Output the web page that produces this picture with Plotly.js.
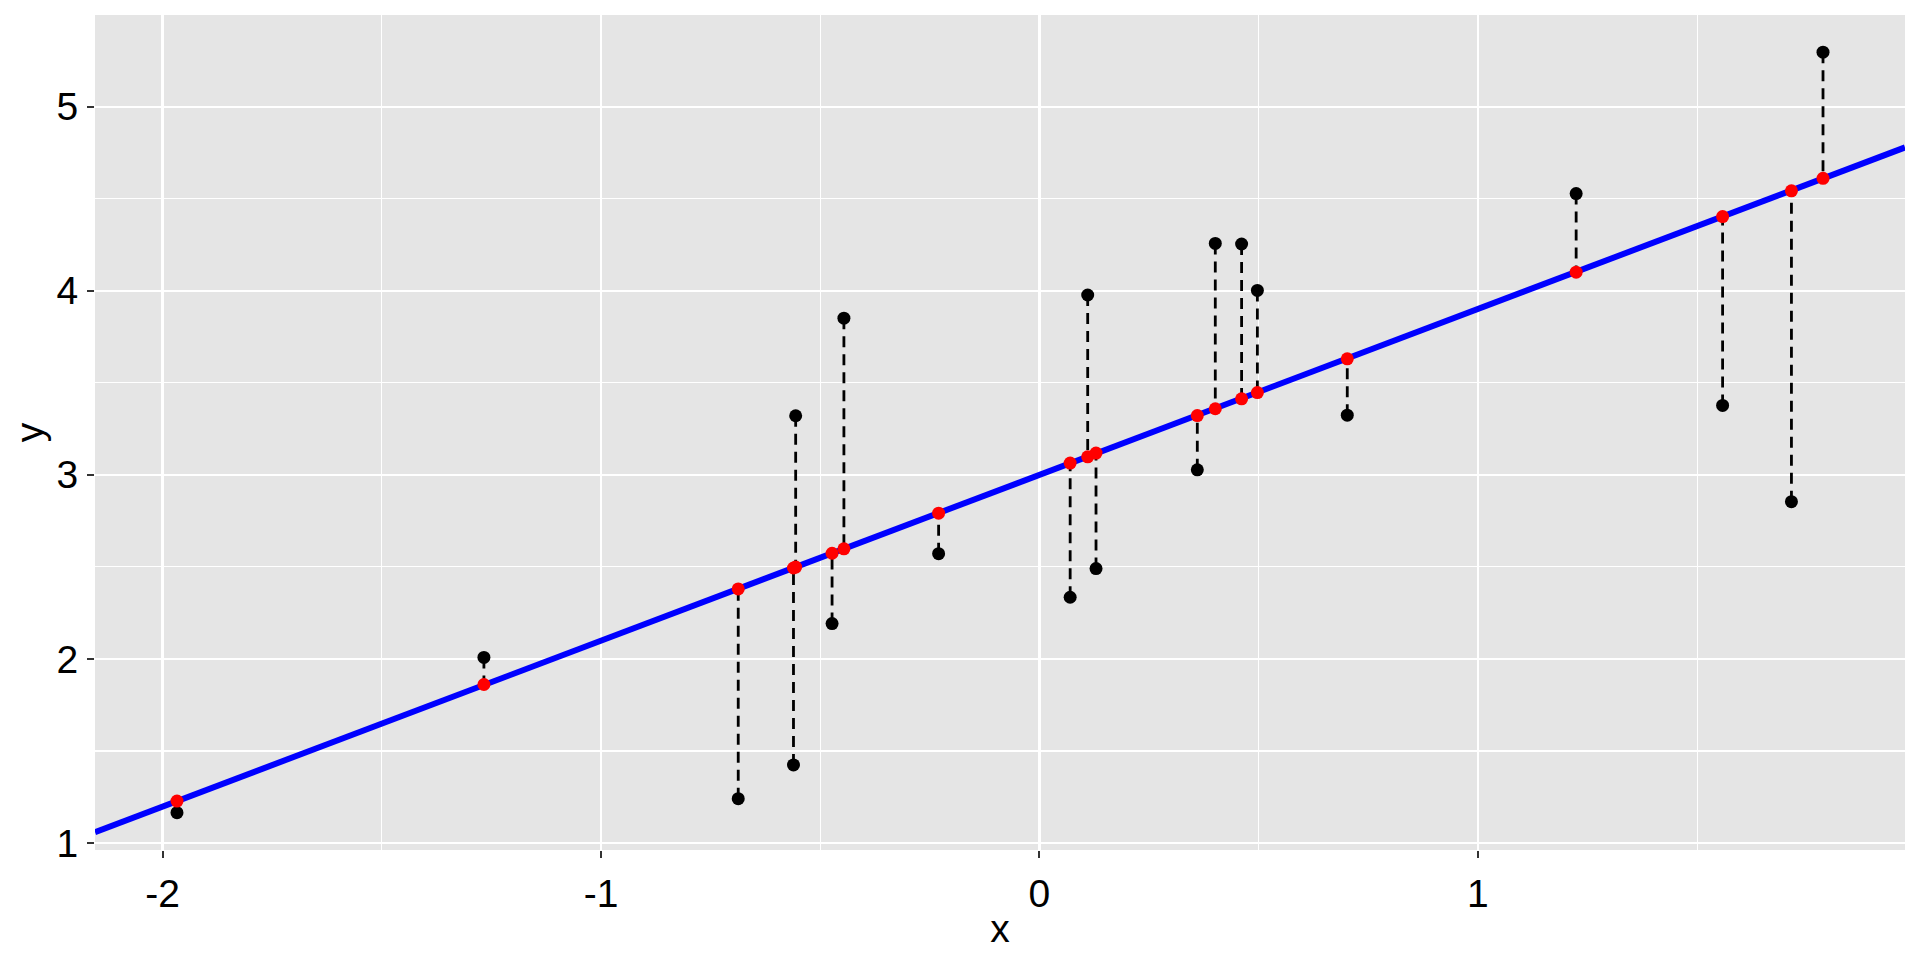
<!DOCTYPE html>
<html>
<head>
<meta charset="utf-8">
<script src="https://cdn.plot.ly/plotly-3.0.1.min.js"></script>
<style>
  html, body { margin: 0; padding: 0; background: #ffffff; }
  #chart { width: 1920px; height: 960px; }
</style>
</head>
<body>
<div id="chart"></div>
<script>
// Observed points (x, y) and fitted values on the regression line
const xValues = [-1.967, -1.267, -0.687, -0.556, -0.561, -0.473, -0.446, -0.230,
                 0.070, 0.110, 0.129, 0.360, 0.401, 0.461, 0.497, 0.702,
                 1.224, 1.558, 1.715, 1.787];
const yObserved = [1.165, 2.008, 1.241, 3.321, 1.424, 2.192, 3.851, 2.572,
                   2.335, 3.977, 2.491, 3.027, 4.257, 4.254, 4.002, 3.324,
                   4.528, 3.377, 2.854, 5.296];
const yFitted = [1.228, 1.861, 2.380, 2.499, 2.494, 2.574, 2.598, 2.792,
                 3.064, 3.098, 3.118, 3.322, 3.359, 3.413, 3.447, 3.630,
                 4.101, 4.403, 4.543, 4.611];
// Regression line parameters
const lineIntercept = 3.000;
const lineSlope = 0.901;
// Axis tick labels
const xTicks = [-2, -1, 0, 1];
const yTicks = [1, 2, 3, 4, 5];

const xRange = [-2.154, 1.974];
const yRange = [0.962, 5.498];

// Segments from observed to fitted
const segX = [], segY = [];
for (let i = 0; i < xValues.length; i++) {
  segX.push(xValues[i], xValues[i], null);
  segY.push(yObserved[i], yFitted[i], null);
}

const lineTrace = {
  x: xRange,
  y: xRange.map(v => lineIntercept + lineSlope * v),
  mode: 'lines',
  line: { color: '#0000FF', width: 6 },
  hoverinfo: 'skip',
  showlegend: false
};
const segTrace = {
  x: segX, y: segY,
  mode: 'lines',
  line: { color: '#000000', width: 2.8, dash: '11px,7px' },
  hoverinfo: 'skip',
  showlegend: false
};
const obsTrace = {
  x: xValues, y: yObserved,
  mode: 'markers',
  marker: { color: '#000000', size: 13 },
  showlegend: false
};
const fitTrace = {
  x: xValues, y: yFitted,
  mode: 'markers',
  marker: { color: '#FF0000', size: 13 },
  showlegend: false
};

const font = { family: 'Liberation Sans, Arial, sans-serif', color: '#000000', size: 39 };

const layout = {
  width: 1920, height: 960,
  margin: { l: 95, r: 15, t: 15, b: 110 },
  paper_bgcolor: '#FFFFFF',
  plot_bgcolor: '#E5E5E5',
  font: font,
  showlegend: false,
  xaxis: {
    range: xRange,
    tickmode: 'array', tickvals: xTicks, ticktext: xTicks.map(String),
    showgrid: true, gridcolor: '#FFFFFF', gridwidth: 2.2,
    minor: { dtick: 0.5, tick0: 0, showgrid: true, gridcolor: '#FFFFFF', gridwidth: 1.1, ticklen: 0 },
    zeroline: false, showline: false,
    ticks: 'outside', ticklen: 7, tickwidth: 2, tickcolor: '#333333',
    ticklabelstandoff: 2,
    tickfont: { family: font.family, size: 39, color: '#000000' },
    title: { text: 'x', font: { family: font.family, size: 39, color: '#000000' }, standoff: 0 },
    automargin: false
  },
  yaxis: {
    range: yRange,
    tickmode: 'array', tickvals: yTicks, ticktext: yTicks.map(String),
    showgrid: true, gridcolor: '#FFFFFF', gridwidth: 2.2,
    minor: { dtick: 0.5, tick0: 0, showgrid: true, gridcolor: '#FFFFFF', gridwidth: 1.1, ticklen: 0 },
    zeroline: false, showline: false,
    ticks: 'outside', ticklen: 7, tickwidth: 2, tickcolor: '#333333',
    ticklabelstandoff: 1,
    tickfont: { family: font.family, size: 39, color: '#000000' },
    title: { text: 'y', font: { family: font.family, size: 39, color: '#000000' }, standoff: 0 },
    automargin: false
  }
};

Plotly.newPlot('chart', [lineTrace, segTrace, obsTrace, fitTrace], layout, { staticPlot: true, displayModeBar: false });
</script>
</body>
</html>
